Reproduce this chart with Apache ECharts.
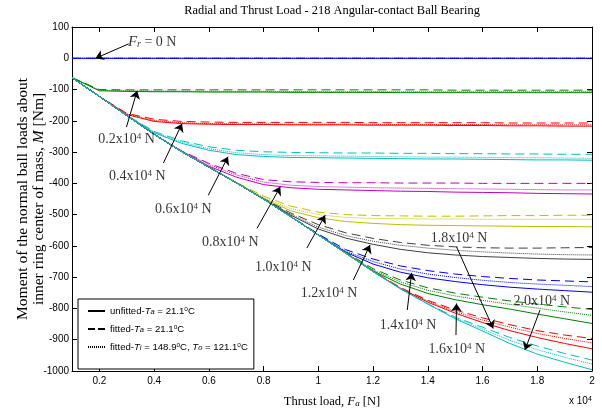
<!DOCTYPE html>
<html><head><meta charset="utf-8">
<script src="https://cdn.jsdelivr.net/npm/echarts@6/dist/echarts.min.js"></script>
<style>html,body{margin:0;padding:0;background:#fff}#c{width:602px;height:414px}</style>
</head><body><div id="c"></div>
<script>
// ---- data (thrust load in x10^4 N, moment in Nm) ----
const THRUST_LOAD = [0.1,0.2,0.3,0.4,0.5,0.6,0.7,0.8,0.9,1.0,1.1,1.2,1.3,1.4,1.5,1.6,1.7,1.8,1.9,2.0];
const X_TICKS = [0.2,0.4,0.6,0.8,1,1.2,1.4,1.6,1.8,2];
const RADIAL_LOAD_LABELS = ['0.2','0.4','0.6','0.8','1.0','1.2','1.4','1.6','1.8','2.0'];

// Fr = 0
const M_UNFIT_00 = [0,0,0,0,0,0,0,0,0,0,0,0,0,0,0,0,0,0,0,0];
const M_FITA_00  = [0,0,0,0,0,0,0,0,0,0,0,0,0,0,0,0,0,0,0,0];
const M_FITH_00  = [0,0,0,0,0,0,0,0,0,0,0,0,0,0,0,0,0,0,0,0];
// Fr = 0.2e4
const M_UNFIT_02 = [-62,-104,-106,-107,-107,-108,-108,-108,-109,-109,-109,-109,-110,-110,-110,-110,-110,-110,-110,-110];
const M_FITA_02  = [-62,-100,-101,-101,-101,-101,-101,-101,-101,-101,-101,-101,-101,-101,-102,-102,-102,-102,-102,-102];
const M_FITH_02  = [-62,-102,-104,-105,-105,-106,-106,-106,-106,-107,-107,-107,-107,-107,-107,-107,-107,-107,-107,-107];
// Fr = 0.4e4
const M_UNFIT_04 = [-62,-122,-180,-202,-209,-211,-212,-212,-213,-213,-213,-214,-214,-214,-215,-215,-216,-216,-217,-217];
const M_FITA_04  = [-62,-122,-176,-195,-202,-204,-205,-205,-205,-205,-205,-206,-206,-206,-206,-206,-207,-207,-207,-207];
const M_FITH_04  = [-62,-122,-178,-199,-206,-209,-210,-210,-211,-211,-211,-211,-212,-212,-212,-212,-213,-213,-213,-213];
// Fr = 0.6e4
const M_UNFIT_06 = [-62,-122,-183,-238,-272,-294,-308,-314,-317,-318,-319,-320,-321,-322,-322,-323,-324,-325,-325,-326];
const M_FITA_06  = [-62,-122,-182,-234,-264,-283,-294,-299,-301,-302,-303,-303,-304,-304,-305,-305,-306,-306,-307,-307];
const M_FITH_06  = [-62,-122,-183,-236,-268,-289,-302,-308,-311,-312,-313,-314,-315,-316,-316,-317,-318,-318,-319,-320];
// Fr = 0.8e4
const M_UNFIT_08 = [-62,-122,-183,-243,-298,-345,-380,-404,-414,-419,-421,-423,-425,-426,-428,-429,-430,-432,-433,-434];
const M_FITA_08  = [-62,-122,-183,-243,-296,-336,-368,-388,-395,-397,-398,-398,-399,-399,-399,-400,-400,-400,-400,-400];
const M_FITH_08  = [-62,-122,-183,-243,-297,-340,-373,-396,-406,-410,-412,-414,-415,-416,-417,-418,-419,-420,-421,-421];
// Fr = 1.0e4
const M_UNFIT_10 = [-62,-122,-183,-243,-298,-348,-398,-448,-488,-510,-522,-528,-532,-534,-535,-536,-537,-538,-538,-539];
const M_FITA_10  = [-62,-122,-183,-243,-298,-348,-396,-441,-473,-492,-500,-503,-504,-505,-505,-504,-503,-503,-502,-502];
const M_FITH_10  = [-62,-122,-183,-243,-298,-348,-397,-445,-481,-500,-509,-512,-513,-514,-514,-515,-515,-515,-515,-515];
// Fr = 1.2e4
const M_UNFIT_12 = [-62,-122,-183,-243,-298,-348,-398,-450,-502,-546,-575,-595,-611,-622,-629,-634,-637,-640,-642,-643];
const M_FITA_12  = [-62,-122,-183,-243,-298,-348,-398,-449,-495,-532,-558,-576,-589,-598,-603,-606,-607,-607,-606,-605];
const M_FITH_12  = [-62,-122,-183,-243,-298,-348,-398,-450,-499,-540,-567,-585,-598,-607,-614,-619,-623,-626,-628,-629];
// Fr = 1.4e4
const M_UNFIT_14 = [-62,-122,-183,-243,-298,-348,-398,-450,-507,-565,-620,-658,-684,-702,-714,-724,-732,-738,-743,-748];
const M_FITA_14  = [-62,-122,-183,-243,-298,-348,-398,-450,-506,-562,-612,-642,-664,-679,-690,-698,-704,-709,-712,-715];
const M_FITH_14  = [-62,-122,-183,-243,-298,-348,-398,-450,-507,-565,-617,-650,-674,-690,-701,-710,-717,-722,-726,-730];
// Fr = 1.6e4
const M_UNFIT_16 = [-62,-122,-183,-243,-298,-348,-398,-450,-507,-565,-623,-680,-722,-752,-772,-788,-802,-818,-833,-848];
const M_FITA_16  = [-62,-122,-183,-243,-298,-348,-398,-450,-507,-564,-620,-673,-709,-734,-751,-764,-776,-786,-795,-803];
const M_FITH_16  = [-62,-122,-183,-243,-298,-348,-398,-450,-507,-565,-622,-677,-715,-742,-760,-774,-787,-799,-811,-822];
// Fr = 1.8e4
const M_UNFIT_18 = [-62,-122,-183,-243,-298,-348,-398,-450,-507,-565,-623,-682,-736,-780,-815,-845,-871,-893,-912,-929];
const M_FITA_18  = [-62,-122,-183,-243,-298,-348,-398,-450,-507,-565,-623,-681,-733,-774,-805,-830,-852,-871,-885,-896];
const M_FITH_18  = [-62,-122,-183,-243,-298,-348,-398,-450,-507,-565,-623,-682,-735,-777,-810,-837,-860,-880,-896,-910];
// Fr = 2.0e4
const M_UNFIT_20 = [-62,-122,-183,-243,-298,-348,-398,-450,-507,-565,-623,-682,-737,-786,-833,-872,-912,-946,-972,-996];
const M_FITA_20  = [-62,-122,-183,-243,-298,-348,-398,-450,-507,-565,-623,-682,-737,-785,-828,-860,-893,-920,-944,-965];
const M_FITH_20  = [-62,-122,-183,-243,-298,-348,-398,-450,-507,-565,-623,-682,-737,-786,-831,-866,-902,-932,-956,-978];

// annotation anchors (data coords: thrust x10^4 N, moment Nm)
const LABEL_AT   = [[0.393,51],[0.299,-259],[0.339,-377],[0.507,-482],[0.678,-588],[0.872,-668],[1.039,-751],[1.328,-853],[1.506,-930],[1.514,-575],[1.817,-776]];
const ARROW_TAIL = [[0.307,46],[0.299,-220],[0.434,-335],[0.598,-438],[0.776,-544],[0.958,-607],[1.128,-709],[1.325,-805],[1.503,-885],[1.505,-603],[1.810,-805]];
const ARROW_HEAD = [[0.186,0],[0.338,-104],[0.502,-209],[0.670,-315],[0.861,-411],[1.025,-502],[1.189,-597],[1.341,-686],[1.505,-784],[1.639,-864],[1.755,-933]];

const LEGEND_NAMES = ['unfitted-Ta = 21.1°C','fitted-Ta = 21.1°C','fitted-Ti = 148.9°C, To = 121.1°C'];
const TITLE = 'Radial and Thrust Load - 218 Angular-contact Ball Bearing';

// ---- styles ----
const COLORS = ['#0000ff','#008000','#ff0000','#00bfbf','#bf00bf','#bfbf00','#404040','#0000ff','#008000','#ff0000','#00bfbf'];
const SERIF = '"Liberation Serif","Times New Roman",serif';
const SANS = '"Liberation Sans",Arial,sans-serif';
const GROUPS = [
  [M_UNFIT_00,M_FITA_00,M_FITH_00],[M_UNFIT_02,M_FITA_02,M_FITH_02],[M_UNFIT_04,M_FITA_04,M_FITH_04],
  [M_UNFIT_06,M_FITA_06,M_FITH_06],[M_UNFIT_08,M_FITA_08,M_FITH_08],[M_UNFIT_10,M_FITA_10,M_FITH_10],
  [M_UNFIT_12,M_FITA_12,M_FITH_12],[M_UNFIT_14,M_FITA_14,M_FITH_14],[M_UNFIT_16,M_FITA_16,M_FITH_16],
  [M_UNFIT_18,M_FITA_18,M_FITH_18],[M_UNFIT_20,M_FITA_20,M_FITH_20]
];
const LTYPE = ['solid',[9,5],[1,1]];

const series = [];
GROUPS.forEach((g, gi) => {
  [1,2,0].forEach(k => {
    series.push({
      type:'line', name:'g'+gi+'_'+k, symbol:'none', silent:true, animation:false,
      data: THRUST_LOAD.map((x,i)=>[x, g[k][i]]),
      lineStyle:{color:COLORS[gi], width:1, type:LTYPE[k]}, itemStyle:{color:COLORS[gi]}, z:2
    });
  });
});
// legend-only series
const LEG_TYPES = ['solid',[7,3],[1,1]];
LEGEND_NAMES.forEach((n,i)=>{
  series.push({type:'line', name:n, symbol:'none', data:[],
    lineStyle:{color:'#000', width:1, type:LEG_TYPES[i]},
    itemStyle:{color:'rgba(0,0,0,0)', borderWidth:0, opacity:0}});
});
// arrows
series.push({
  type:'lines', coordinateSystem:'cartesian2d', silent:true, animation:false, z:5,
  symbol:['none','arrow'], symbolSize:8,
  lineStyle:{color:'#000', width:1, opacity:1},
  data: ARROW_TAIL.map((t,i)=>({coords:[t, ARROW_HEAD[i]]}))
});
// annotation labels
const annotText = ['{i|F}{sb|r}{n| = 0 N}'].concat(RADIAL_LOAD_LABELS.map(s=>'{n|'+s+'x10}{sp|4}{n| N}'));
series.push({
  type:'scatter', silent:true, animation:false, z:6, symbolSize:0,
  data: LABEL_AT.map((p,i)=>({value:p, label:{formatter:annotText[i]}})),
  label:{show:true, position:'inside', color:'#000',
    rich:{
      n:{fontFamily:SERIF, fontSize:14, color:'#000'},
      i:{fontFamily:SERIF, fontSize:15, fontStyle:'italic', color:'#000'},
      sb:{fontFamily:SERIF, fontSize:10, fontStyle:'italic', color:'#000', verticalAlign:'bottom'},
      sp:{fontFamily:SERIF, fontSize:9, color:'#000', verticalAlign:'top'}
    }}
});

const legendRich = {
  'unfitted-Ta = 21.1°C':'{n|unfitted-}{i|T}{sb|a}{n| = 21.1}{sp|o}{n|C}',
  'fitted-Ta = 21.1°C':'{n|fitted-}{i|T}{sb|a}{n| = 21.1}{sp|o}{n|C}',
  'fitted-Ti = 148.9°C, To = 121.1°C':'{n|fitted-}{i|T}{sb|i}{n| = 148.9}{sp|o}{n|C, }{i|T}{sb|o}{n| = 121.1}{sp|o}{n|C}'
};

const axisCommon = {
  axisLine:{show:true, onZero:false, lineStyle:{color:'#000', width:1}},
  splitLine:{show:false}
};

const option = {
  animation:false,
  backgroundColor:'#fff',
  title:[
    {text:TITLE, left:332, top:5, textAlign:'center', padding:0,
     textStyle:{fontFamily:SERIF, fontSize:12.4, fontWeight:'normal', color:'#000'}},
    {text:'{n|x 10}{sp|4}', left:569, top:396, padding:0,
     textStyle:{fontWeight:'normal', fontFamily:SANS, fontSize:10, color:'#000',
       rich:{n:{fontFamily:SANS, fontSize:10, fontWeight:'normal', color:'#000'}, sp:{fontFamily:SANS, fontSize:7, fontWeight:'normal', color:'#000', verticalAlign:'top'}}}}
  ],
  grid:{left:72, right:10, top:27, bottom:43, containLabel:false},
  legend:{
    data:LEGEND_NAMES, orient:'vertical', left:78, top:299,
    itemWidth:17, itemHeight:12, itemGap:8, padding:[7,6,17,9],
    borderColor:'#000', borderWidth:1, backgroundColor:'#fff', selectedMode:false,
    itemStyle:{opacity:0},
    formatter: n => legendRich[n],
    textStyle:{color:'#000', rich:{
      n:{fontFamily:SANS, fontSize:9.6, color:'#000'},
      i:{fontFamily:SANS, fontSize:9.6, fontStyle:'italic', color:'#000'},
      sb:{fontFamily:SANS, fontSize:7.5, fontStyle:'italic', color:'#000', verticalAlign:'bottom'},
      sp:{fontFamily:SANS, fontSize:6.5, color:'#000', verticalAlign:'top'}
    }}
  },
  xAxis:[
    Object.assign({type:'value', min:0.1, max:2, position:'bottom',
      axisTick:{show:true, inside:true, length:5, customValues:X_TICKS, lineStyle:{color:'#000'}},
      axisLabel:{show:true, customValues:X_TICKS, margin:5, color:'#000', fontFamily:SANS, fontSize:10, formatter:v=>String(v)},
      name:'Thrust load, {i|F}{sb|a} [N]', nameLocation:'middle', nameGap:24, nameMoveOverlap:false,
      nameTextStyle:{rich:{
        n:{fontFamily:SERIF, fontSize:12.5, color:'#000'},
        i:{fontFamily:SERIF, fontSize:13, fontStyle:'italic', color:'#000'},
        sb:{fontFamily:SERIF, fontSize:9, fontStyle:'italic', color:'#000', verticalAlign:'bottom'}
      }, fontFamily:SERIF, fontSize:12.5, color:'#000'}
    }, axisCommon),
    Object.assign({type:'value', min:0.1, max:2, position:'top',
      axisTick:{show:true, inside:true, length:5, customValues:X_TICKS, lineStyle:{color:'#000'}},
      axisLabel:{show:false}
    }, axisCommon)
  ],
  yAxis:[
    Object.assign({type:'value', min:-1000, max:100, interval:100, position:'left',
      axisTick:{show:true, inside:true, length:5, lineStyle:{color:'#000'}},
      axisLabel:{show:true, margin:3, color:'#000', fontFamily:SANS, fontSize:10, formatter:v=>String(v)},
      name:'Moment of the normal ball loads about\ninner ring center of mass, {i|M} [Nm]',
      nameLocation:'middle', nameGap:25, nameMoveOverlap:false,
      nameTextStyle:{fontFamily:SERIF, fontSize:15.5, color:'#000', lineHeight:16, rich:{
        i:{fontFamily:SERIF, fontSize:15.5, fontStyle:'italic', color:'#000', lineHeight:16}
      }}
    }, axisCommon),
    Object.assign({type:'value', min:-1000, max:100, interval:100, position:'right',
      axisTick:{show:true, inside:true, length:5, lineStyle:{color:'#000'}},
      axisLabel:{show:false}
    }, axisCommon)
  ],
  series
};
const chart = echarts.init(document.getElementById('c'), null, {renderer:'canvas', width:602, height:414});
chart.setOption(option);
</script></body></html>
